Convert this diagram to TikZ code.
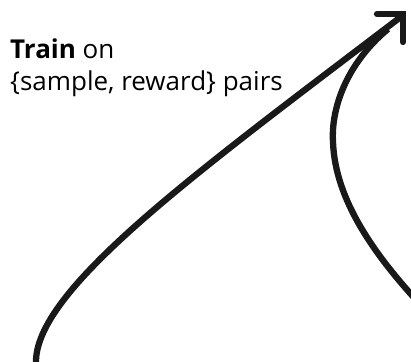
\documentclass[tikz,border=0pt]{standalone}
\usepackage{fontspec}
\setmainfont{Open Sans}
\begin{document}
\begin{tikzpicture}[x=1pt,y=-1pt,
  curve/.style={line width=6.3pt,draw=black!90},
  headline/.style={line width=6.3pt,draw=black!90,line cap=round,line join=miter},
  label/.style={anchor=base west,inner sep=0pt,font=\fontsize{26}{30}\selectfont,align=left}]
\useasboundingbox (0,0) rectangle (411,361);
\coordinate (start) at (36,364);
\coordinate (tip) at (402,16);
\coordinate (s2) at (388,29);
\coordinate (mid2) at (333,142);
\coordinate (end2) at (418,302);
\draw[curve] (start) .. controls (33,290) and (200,170) .. (tip);
\draw[curve] (s2) .. controls (345,65) and (331,110) .. (mid2) .. controls (335,200) and (375,255) .. (end2);
\draw[headline] (377,14) -- (403,14) -- (403,42);
\node[label] (t1) at (10,58) {\textbf{Train} on};
\node[label] (t2) at (10,90) {\{sample, reward\} pairs};
\end{tikzpicture}
\end{document}
